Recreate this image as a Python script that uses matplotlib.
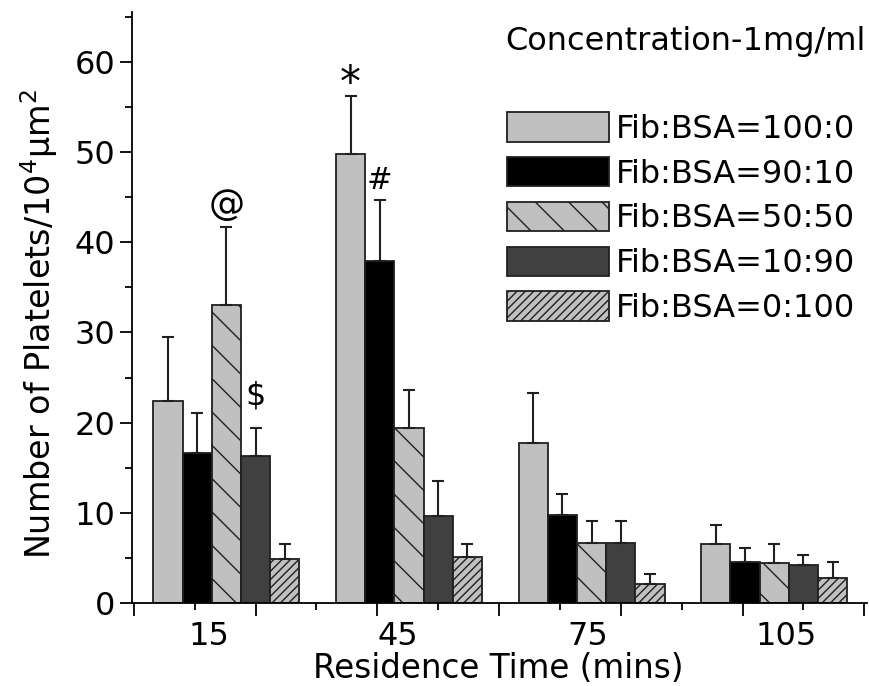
import numpy as np
import matplotlib
matplotlib.use("Agg")
from matplotlib import pyplot as plt

plt.rcParams['font.family'] = ['DejaVu Sans']
plt.rcParams['hatch.linewidth'] = 1.0

times = ['15', '45', '75', '105']
series = ['Fib:BSA=100:0', 'Fib:BSA=90:10', 'Fib:BSA=50:50', 'Fib:BSA=10:90', 'Fib:BSA=0:100']

# mean values per residence time, one list per Fib:BSA ratio
fib100 = [22.4, 49.8, 17.7, 6.5]
fib90 = [16.6, 37.9, 9.8, 4.6]
fib50 = [33.0, 19.4, 6.7, 4.4]
fib10 = [16.3, 9.6, 6.7, 4.2]
fib0 = [4.9, 5.1, 2.1, 2.8]

# upper error bars
err100 = [7.1, 6.4, 5.6, 2.1]
err90 = [4.5, 6.8, 2.3, 1.5]
err50 = [8.7, 4.2, 2.4, 2.1]
err10 = [3.1, 3.9, 2.4, 1.1]
err0 = [1.6, 1.4, 1.1, 1.7]

means = [fib100, fib90, fib50, fib10, fib0]
errs = [err100, err90, err50, err10, err0]

faces = ['#c0c0c0', '#000000', '#c0c0c0', '#404040', '#c0c0c0']
hatches = [None, None, '\\', None, '////']

fig = plt.figure(figsize=(8.69, 6.86), dpi=100)
ax = fig.add_axes([0.152, 0.121, 0.846, 0.861])

centers = 1.52 + 3 * np.arange(len(times))
w = 0.48
for i in range(len(series)):
    xs = centers + (i - 2) * w
    ax.bar(xs, means[i], width=w, color=faces[i], edgecolor='#202020',
           linewidth=1.3, hatch=hatches[i], label=series[i], zorder=2)
    ax.errorbar(xs, means[i], yerr=[np.zeros(len(times)), errs[i]], fmt='none',
                ecolor='#202020', elinewidth=1.5, capsize=4, capthick=1.5, zorder=3)

ax.set_xlim(-0.03, 12.05)
ax.set_ylim(0, 65.5)
ax.spines['top'].set_visible(False)
ax.spines['right'].set_visible(False)
ax.spines['left'].set_linewidth(1.3)
ax.spines['bottom'].set_linewidth(1.3)

ax.set_yticks(np.arange(0, 61, 10))
ax.set_yticks(np.arange(5, 66, 10), minor=True)
ax.set_xticks(np.arange(0, 13, 2))
ax.set_xticks(np.arange(1, 13, 2), minor=True)
ax.set_xticklabels([])
ax.tick_params(axis='both', which='major', length=9, width=1.3, labelsize=23)
ax.tick_params(axis='both', which='minor', length=5, width=1.3)
ax.tick_params(axis='y', pad=3)

# Origin-style tick labels, slightly off the group centres
label_x = [1.23, 4.33, 7.46, 10.72]
for lx, t in zip(label_x, times):
    ax.text(lx, -0.03, t, transform=ax.get_xaxis_transform(), ha='center', va='top', fontsize=23)

ax.set_xlabel('Residence Time (mins)', fontsize=23.5)
ax.xaxis.set_label_coords(0.498, -0.083)
ax.xaxis.label.set_va('top')
ax.set_ylabel('Number of Platelets/10$^4$µm$^2$', fontsize=24)
ax.yaxis.set_label_coords(-0.098, 0.472)

# significance marks
ax.text(centers[1] - 2 * w, 57.6, '*', ha='center', va='center', fontsize=30)
ax.text(centers[1] - 1 * w, 46.9, '#', ha='center', va='center', fontsize=22)
ax.text(centers[0], 44.1, '@', ha='center', va='center', fontsize=26)
ax.text(centers[0] + 1 * w, 23.0, '$', ha='center', va='center', fontsize=23)

fig.text(0.996, 0.94, 'Concentration-1mg/ml', ha='right', va='center', fontsize=23)

ax.legend(loc='upper left', bbox_to_anchor=(507 / 869, (686 - 112) / 686),
          bbox_transform=fig.transFigure, frameon=False, fontsize=23,
          handlelength=3.2, handleheight=1.05, labelspacing=0.38,
          handletextpad=0.2, borderpad=0, borderaxespad=0)

fig.savefig('out.png', dpi=100)
